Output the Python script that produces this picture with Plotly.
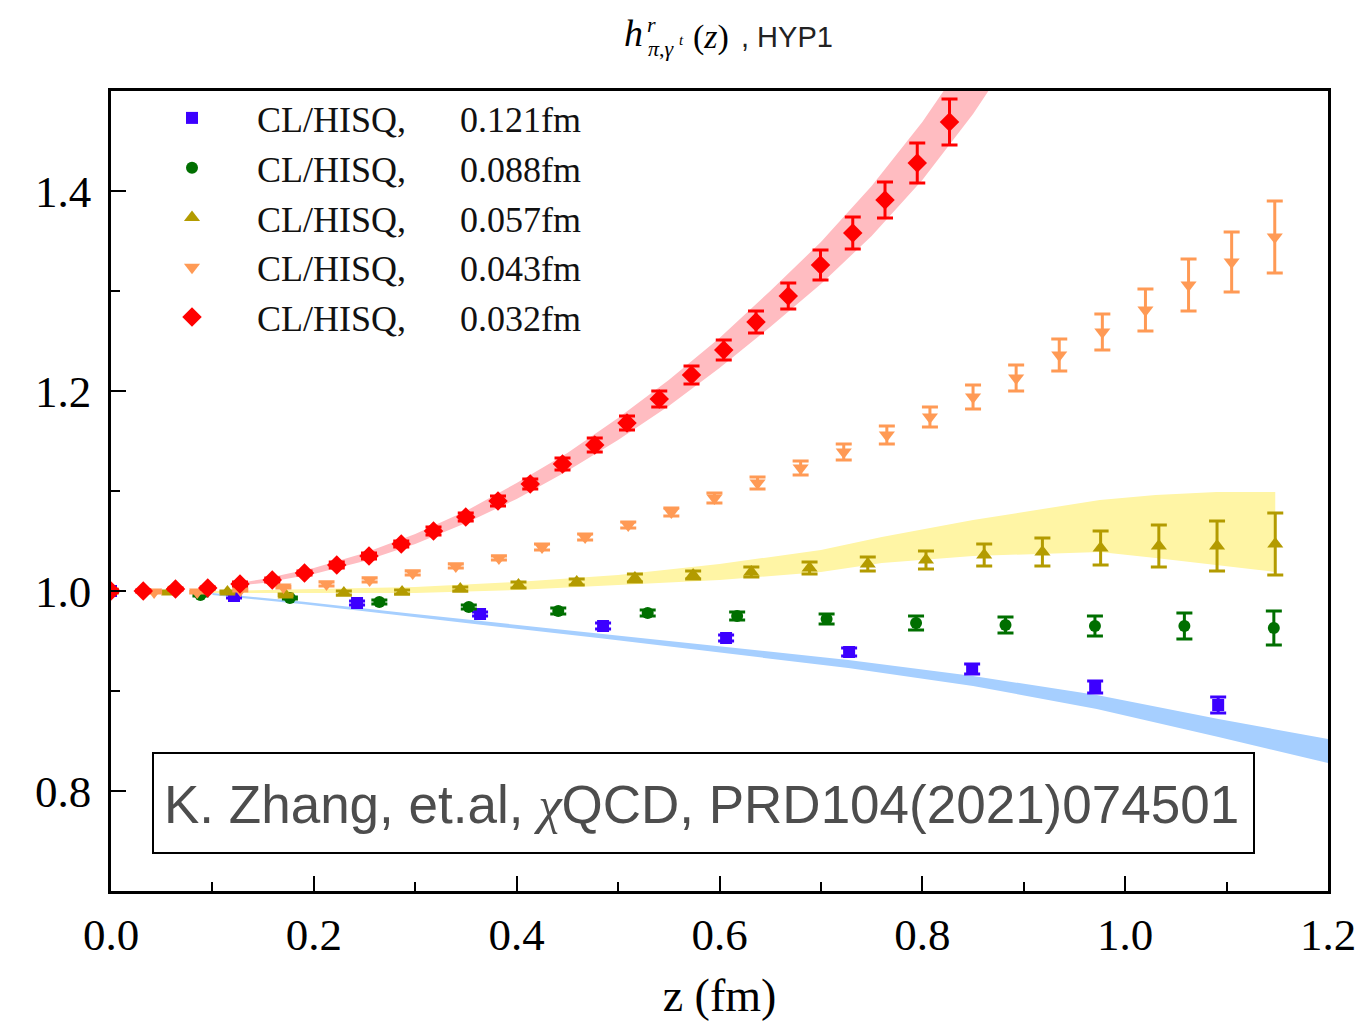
import plotly.graph_objects as go

# ---------------- data ----------------
z_a121 = [0.0, 0.1213, 0.2426, 0.3639, 0.4852, 0.6065, 0.7278, 0.8491, 0.9704, 1.0917]
h_a121 = [1.000, 0.995, 0.988, 0.977, 0.965, 0.953, 0.939, 0.922, 0.904, 0.886]
e_a121 = [0.001, 0.002, 0.002, 0.002, 0.003, 0.003, 0.004, 0.005, 0.006, 0.008]

z_a088 = [0.0, 0.0882, 0.1764, 0.2646, 0.3528, 0.4410, 0.5292, 0.6174, 0.7056, 0.7938,
          0.8820, 0.9702, 1.0584, 1.1466]
h_a088 = [1.000, 0.996, 0.993, 0.989, 0.984, 0.980, 0.978, 0.975, 0.972, 0.968,
          0.966, 0.965, 0.965, 0.963]
e_a088 = [0.001, 0.001, 0.001, 0.002, 0.002, 0.003, 0.003, 0.004, 0.005, 0.007,
          0.008, 0.010, 0.013, 0.017]

z_a057 = [0.0, 0.0574, 0.1148, 0.1722, 0.2296, 0.2870, 0.3444, 0.4018, 0.4592, 0.5166,
          0.5740, 0.6314, 0.6888, 0.7462, 0.8036, 0.8610, 0.9184, 0.9758, 1.0332, 1.0906, 1.1480]
h_a057 = [1.000, 0.999, 0.999, 0.996, 0.998, 0.999, 1.002, 1.006, 1.009, 1.013,
          1.016, 1.019, 1.023, 1.027, 1.031, 1.036, 1.039, 1.043, 1.045, 1.045, 1.047]
e_a057 = [0.001, 0.001, 0.001, 0.001, 0.002, 0.002, 0.002, 0.003, 0.003, 0.004,
          0.004, 0.005, 0.006, 0.007, 0.009, 0.011, 0.014, 0.017, 0.021, 0.025, 0.031]

z_a043 = [0.0, 0.0425, 0.0850, 0.1275, 0.1700, 0.2125, 0.2550, 0.2975, 0.3400, 0.3825,
          0.4250, 0.4675, 0.5100, 0.5525, 0.5950, 0.6375, 0.6800, 0.7225, 0.7650, 0.8075,
          0.8500, 0.8925, 0.9350, 0.9775, 1.0200, 1.0625, 1.1050, 1.1475]
h_a043 = [1.000, 0.999, 0.999, 1.001, 1.004, 1.007, 1.011, 1.018, 1.025, 1.033,
          1.044, 1.054, 1.066, 1.079, 1.093, 1.108, 1.123, 1.139, 1.156, 1.174,
          1.194, 1.213, 1.236, 1.259, 1.281, 1.306, 1.329, 1.354]
e_a043 = [0.001, 0.001, 0.001, 0.001, 0.001, 0.002, 0.002, 0.002, 0.002, 0.002,
          0.003, 0.003, 0.003, 0.004, 0.005, 0.006, 0.007, 0.008, 0.009, 0.010,
          0.012, 0.013, 0.016, 0.018, 0.021, 0.026, 0.030, 0.036]

z_a032 = [0.0, 0.0318, 0.0636, 0.0954, 0.1272, 0.1590, 0.1908, 0.2226, 0.2544, 0.2862,
          0.3180, 0.3498, 0.3816, 0.4134, 0.4452, 0.4770, 0.5088, 0.5406, 0.5724, 0.6042,
          0.6360, 0.6678, 0.6996, 0.7314, 0.7632, 0.7950, 0.8268]
h_a032 = [1.000, 1.000, 1.002, 1.003, 1.007, 1.011, 1.018, 1.026, 1.035, 1.047,
          1.060, 1.074, 1.090, 1.107, 1.127, 1.146, 1.168, 1.192, 1.216, 1.241,
          1.269, 1.295, 1.326, 1.358, 1.391, 1.428, 1.469]
e_a032 = [0.001, 0.001, 0.001, 0.001, 0.002, 0.002, 0.002, 0.003, 0.003, 0.003,
          0.004, 0.004, 0.005, 0.005, 0.006, 0.007, 0.007, 0.008, 0.009, 0.010,
          0.011, 0.013, 0.015, 0.016, 0.018, 0.020, 0.023]

# continuum-extrapolation style bands: z, centre, half-width
band_red_z = [0.12, 0.15, 0.20, 0.25, 0.30, 0.35, 0.40, 0.45, 0.50, 0.55, 0.60, 0.65, 0.70,
              0.75, 0.80, 0.85, 0.90]
band_red_c = [1.006, 1.010, 1.020, 1.034, 1.052, 1.074, 1.100, 1.129, 1.162, 1.198, 1.238,
              1.282, 1.328, 1.380, 1.440, 1.510, 1.590]
band_red_w = [0.001, 0.002, 0.003, 0.004, 0.005, 0.006, 0.008, 0.009, 0.011, 0.013, 0.015,
              0.018, 0.021, 0.025, 0.029, 0.033, 0.037]

band_yel_z = [0.10, 0.20, 0.30, 0.40, 0.50, 0.60, 0.70, 0.76, 0.85, 0.975, 1.03, 1.09, 1.148]
band_yel_c = [0.999, 1.000, 1.001, 1.005, 1.011, 1.019, 1.030, 1.041, 1.053, 1.065, 1.0645,
              1.0625, 1.059]
band_yel_w = [0.001, 0.002, 0.003, 0.004, 0.005, 0.008, 0.011, 0.013, 0.018, 0.026, 0.0315,
              0.0365, 0.040]

band_blu_z = [0.10, 0.19, 0.295, 0.384, 0.485, 0.607, 0.727, 0.85, 0.972, 1.092, 1.20]
band_blu_c = [0.997, 0.988, 0.976, 0.966, 0.955, 0.941, 0.927, 0.910, 0.889, 0.863, 0.840]
band_blu_w = [0.001, 0.0012, 0.0015, 0.002, 0.0025, 0.003, 0.004, 0.005, 0.007, 0.009, 0.012]

series_names = ["CL/HISQ,", "CL/HISQ,", "CL/HISQ,", "CL/HISQ,", "CL/HISQ,"]
series_spacing = ["0.121fm", "0.088fm", "0.057fm", "0.043fm", "0.032fm"]

x_ticks = [0.0, 0.2, 0.4, 0.6, 0.8, 1.0, 1.2]
y_ticks = [0.8, 1.0, 1.2, 1.4]

# ---------------- styling ----------------
COL_BLUE = "#3c00ff"
COL_GREEN = "#006f00"
COL_OLIVE = "#b39b00"
COL_ORANGE = "#ff9a55"
COL_RED = "#ff0000"
BAND_RED = "#ffbcc1"
BAND_YEL = "#fff5a5"
BAND_BLU = "#a6cfff"

SERIF = "Liberation Serif"
SANS = "Liberation Sans"

fig = go.Figure()


def add_band(zs, cs, ws, color):
    upper = [c + w for c, w in zip(cs, ws)]
    lower = [c - w for c, w in zip(cs, ws)]
    fig.add_trace(go.Scatter(
        x=list(zs) + list(zs)[::-1],
        y=upper + lower[::-1],
        fill="toself", fillcolor=color, mode="lines",
        line=dict(width=0, color=color), hoverinfo="skip", showlegend=False))


add_band(band_blu_z, band_blu_c, band_blu_w, BAND_BLU)
add_band(band_yel_z, band_yel_c, band_yel_w, BAND_YEL)
add_band(band_red_z, band_red_c, band_red_w, BAND_RED)

NB = "\u00a0"
series = [
    (z_a121, h_a121, e_a121, COL_BLUE, "square", 12),
    (z_a088, h_a088, e_a088, COL_GREEN, "circle", 12),
    (z_a057, h_a057, e_a057, COL_OLIVE, "triangle-up", 14),
    (z_a043, h_a043, e_a043, COL_ORANGE, "triangle-down", 14),
    (z_a032, h_a032, e_a032, COL_RED, "diamond", 15),
]
for i, (zs, hs, es, col, sym, sz) in enumerate(series):
    label = NB * 5 + series_names[i] + NB * 6 + series_spacing[i]
    fig.add_trace(go.Scatter(
        x=zs, y=hs, mode="markers", name=label,
        marker=dict(color=col, symbol=sym, size=sz, line=dict(width=0)),
        error_y=dict(type="data", array=es, visible=True, color=col,
                     thickness=3, width=8)))

# pixel -> paper helpers (plot area: x 111..1328, y 91..891)
L, R, T, B = 111, 1328, 91, 891


def px(xp):
    return (xp - L) / (R - L)


def py(yp):
    return (B - yp) / (B - T)


annotations = []


def ann(text, xp, yp, size, family=SERIF, xanchor="center", color="black"):
    annotations.append(dict(
        text=text, x=px(xp), y=py(yp), xref="paper", yref="paper",
        xanchor=xanchor, yanchor="middle", showarrow=False,
        font=dict(family=family, size=size, color=color)))


# title pieces: h^r_{pi,gamma^t}(z) , HYP1
ann("<i>h</i>", 633, 33, 38)
ann("<i>r</i>", 651, 24, 22)
ann("<i>π</i>,<i>γ</i>", 661, 48, 22)
ann("<i>t</i>", 681, 40, 15)
ann("(<i>z</i>)", 711, 37, 34)
ann(", HYP1", 739, 37, 29, family=SANS, xanchor="left", color="#222222")

# citation box
ann("K. Zhang, et.al, <span style='font-family:Liberation Serif'><i>χ</i></span>QCD, PRD104(2021)074501",
    701, 804, 53, family=SANS, color="#4d4d4d")

shapes = [dict(type="rect", xref="paper", yref="paper",
               x0=px(153), x1=px(1254), y0=py(853), y1=py(753),
               line=dict(color="black", width=2), fillcolor="white", layer="above")]

axis_common = dict(
    showgrid=False, zeroline=False, showline=True, linecolor="black", linewidth=2.5,
    mirror=True, ticks="inside", ticklen=15, tickwidth=2, tickcolor="black",
    tickfont=dict(family=SERIF, size=45, color="black"),
)

fig.update_layout(
    width=1358, height=1021,
    margin=dict(l=L, r=1358 - R, t=T, b=1021 - B, autoexpand=False),
    paper_bgcolor="white", plot_bgcolor="white",
    showlegend=True,
    legend=dict(x=px(172), y=py(88), xanchor="left", yanchor="top",
                bgcolor="rgba(0,0,0,0)", borderwidth=0,
                font=dict(family=SERIF, size=36, color="#111111"),
                tracegroupgap=0),
    xaxis=dict(range=[0, 1.2], tickvals=x_ticks, tickformat=".1f",
               minor=dict(dtick=0.1, ticks="inside", ticklen=9, tickwidth=2, tickcolor="black"),
               title=dict(text="z (fm)", font=dict(family=SERIF, size=46, color="black"),
                          standoff=22),
               ticklabelstandoff=2,
               **axis_common),
    yaxis=dict(range=[0.7, 1.5], tickvals=y_ticks, tickformat=".1f",
               minor=dict(dtick=0.1, ticks="inside", ticklen=9, tickwidth=2, tickcolor="black"),
               ticklabelstandoff=8,
               **axis_common),
    annotations=annotations,
    shapes=shapes,
)

fig.write_html("out.html")
